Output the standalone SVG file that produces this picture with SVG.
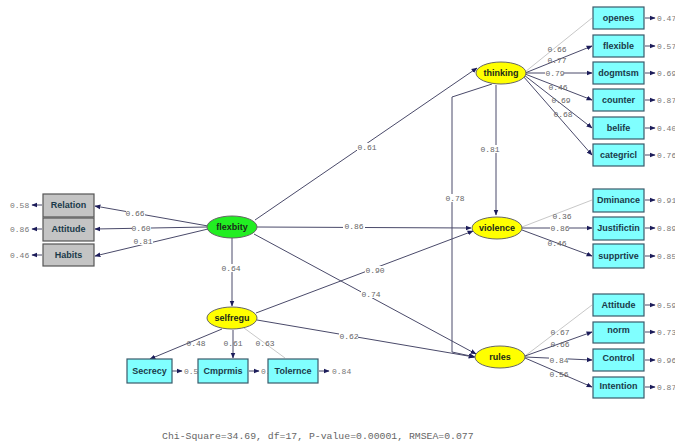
<svg xmlns="http://www.w3.org/2000/svg" width="675" height="446" viewBox="0 0 675 446">
<defs>
<marker id="ah" viewBox="0 0 10 10" refX="9" refY="5" markerWidth="6" markerHeight="6" orient="auto" markerUnits="userSpaceOnUse"><path d="M0,1 L10,5 L0,9 Z" fill="#1c1c5a"/></marker>
<style>
.ln{stroke:#4a4a6a;stroke-width:1;fill:none;marker-end:url(#ah)}
.lg{stroke:#c8c8c8;stroke-width:1;fill:none}
.bx{fill:#80ffff;stroke:#3a5a6a;stroke-width:1.2}
.gb{fill:#c4c4c4;stroke:#555;stroke-width:1.2}
.yl{fill:#ffff00;stroke:#666;stroke-width:1}
.gr{fill:#22ee22;stroke:#666;stroke-width:1}
.bt{font-family:"Liberation Sans",Arial,sans-serif;font-weight:bold;font-size:9px;fill:#1a3a4a;text-anchor:middle}
.et{font-family:"Liberation Sans",Arial,sans-serif;font-weight:bold;font-size:9px;fill:#1a2a1a;text-anchor:middle}
.cf{font-family:"Liberation Mono","Courier New",monospace;font-size:8px;fill:#666;text-anchor:middle}
.er{font-family:"Liberation Mono","Courier New",monospace;font-size:8px;fill:#777}
</style>
</defs>
<rect width="675" height="446" fill="#fff"/>
<g id="connectors">
<line class="ln" x1="208" y1="226" x2="95" y2="206"/>
<line class="ln" x1="207" y1="227" x2="95" y2="229"/>
<line class="ln" x1="208" y1="229" x2="95" y2="256"/>
<line class="ln" x1="42" y1="205" x2="32" y2="205"/>
<line class="ln" x1="42" y1="229" x2="32" y2="229"/>
<line class="ln" x1="42" y1="255" x2="32" y2="255"/>
<line class="ln" x1="232" y1="238" x2="232" y2="306"/>
<line class="ln" x1="255" y1="220" x2="477" y2="68"/>
<line class="ln" x1="257" y1="227" x2="471" y2="228"/>
<line class="ln" x1="254" y1="234" x2="476" y2="354"/>
<line class="ln" x1="256" y1="313" x2="473" y2="231"/>
<line class="ln" x1="257" y1="320" x2="474" y2="357"/>
<line class="ln" x1="496" y1="85" x2="496" y2="215"/>
<polyline class="ln" points="492,84 452,97 452,352 475,357"/>
<line class="lg" x1="525" y1="72" x2="592" y2="18"/>
<line class="ln" x1="525" y1="73" x2="592" y2="46"/>
<line class="ln" x1="525" y1="73" x2="592" y2="73"/>
<line class="ln" x1="525" y1="74" x2="592" y2="100"/>
<line class="ln" x1="524" y1="75" x2="592" y2="128"/>
<line class="ln" x1="523" y1="76" x2="592" y2="155"/>
<line class="lg" x1="522" y1="227" x2="592" y2="200"/>
<line class="ln" x1="522" y1="228" x2="592" y2="228"/>
<line class="ln" x1="522" y1="230" x2="592" y2="256"/>
<line class="lg" x1="525" y1="356" x2="592" y2="305"/>
<line class="ln" x1="525" y1="356" x2="592" y2="332"/>
<line class="ln" x1="525" y1="357" x2="592" y2="360"/>
<line class="ln" x1="525" y1="358" x2="592" y2="387"/>
<line class="ln" x1="222" y1="329" x2="150" y2="359"/>
<line class="ln" x1="233" y1="330" x2="233" y2="358"/>
<line class="lg" x1="244" y1="328" x2="285" y2="358"/>
<line class="ln" x1="645" y1="18" x2="655" y2="18"/>
<line class="ln" x1="645" y1="46" x2="655" y2="46"/>
<line class="ln" x1="645" y1="73" x2="655" y2="73"/>
<line class="ln" x1="645" y1="100" x2="655" y2="100"/>
<line class="ln" x1="645" y1="128" x2="655" y2="128"/>
<line class="ln" x1="645" y1="155" x2="655" y2="155"/>
<line class="ln" x1="645" y1="200" x2="655" y2="200"/>
<line class="ln" x1="645" y1="228" x2="655" y2="228"/>
<line class="ln" x1="645" y1="256" x2="655" y2="256"/>
<line class="ln" x1="645" y1="305" x2="655" y2="305"/>
<line class="ln" x1="645" y1="332" x2="655" y2="332"/>
<line class="ln" x1="645" y1="360" x2="655" y2="360"/>
<line class="ln" x1="645" y1="387" x2="655" y2="387"/>
<line class="ln" x1="172" y1="371" x2="182" y2="371"/>
<line class="ln" x1="249" y1="371" x2="259" y2="371"/>
<line class="ln" x1="319" y1="371" x2="329" y2="371"/>
<g>
<rect x="126" y="209" width="19" height="8" fill="#fff"/><text class="cf" x="135" y="216">0.66</text>
<rect x="132" y="224" width="19" height="8" fill="#fff"/><text class="cf" x="141" y="231">0.60</text>
<rect x="134" y="237" width="19" height="8" fill="#fff"/><text class="cf" x="143" y="244">0.81</text>
<rect x="221" y="264" width="19" height="8" fill="#fff"/><text class="cf" x="231" y="271">0.64</text>
<rect x="357" y="143" width="19" height="8" fill="#fff"/><text class="cf" x="367" y="150">0.61</text>
<rect x="343" y="222" width="22" height="8" fill="#fff"/><text class="cf" x="354" y="229">0.86</text>
<rect x="365" y="266" width="19" height="8" fill="#fff"/><text class="cf" x="375" y="273">0.90</text>
<rect x="361" y="290" width="19" height="8" fill="#fff"/><text class="cf" x="371" y="297">0.74</text>
<rect x="339" y="332" width="19" height="8" fill="#fff"/><text class="cf" x="349" y="339">0.62</text>
<rect x="480" y="145" width="19" height="8" fill="#fff"/><text class="cf" x="490" y="152">0.81</text>
<rect x="445" y="194" width="19" height="8" fill="#fff"/><text class="cf" x="455" y="201">0.78</text>
<text class="cf" x="557" y="52">0.66</text>
<text class="cf" x="557" y="63">0.77</text>
<rect x="545" y="70" width="19" height="8" fill="#fff"/><text class="cf" x="555" y="76">0.79</text>
<text class="cf" x="558" y="90">0.46</text>
<text class="cf" x="561" y="103">0.69</text>
<text class="cf" x="563" y="117">0.68</text>
<text class="cf" x="562" y="219">0.36</text>
<rect x="550" y="225" width="19" height="8" fill="#fff"/><text class="cf" x="560" y="231">0.86</text>
<text class="cf" x="557" y="246">0.46</text>
<text class="cf" x="560" y="335">0.67</text>
<text class="cf" x="560" y="347">0.66</text>
<rect x="549" y="357" width="19" height="8" fill="#fff"/><text class="cf" x="559" y="363">0.84</text>
<text class="cf" x="559" y="377">0.56</text>
<text class="cf" x="196" y="346">0.48</text>
<text class="cf" x="233" y="346">0.61</text>
<text class="cf" x="265" y="346">0.63</text>
</g>
<text class="er" x="10" y="208">0.58</text>
<text class="er" x="10" y="232">0.86</text>
<text class="er" x="10" y="258">0.46</text>
<text class="er" x="184" y="374">0.5</text>
<text class="er" x="261" y="374">0.6</text>
<text class="er" x="332" y="374">0.84</text>
<text class="er" x="657" y="21">0.47</text>
<text class="er" x="657" y="49">0.57</text>
<text class="er" x="657" y="76">0.69</text>
<text class="er" x="657" y="103">0.87</text>
<text class="er" x="657" y="131">0.40</text>
<text class="er" x="657" y="158">0.76</text>
<text class="er" x="657" y="203">0.91</text>
<text class="er" x="657" y="231">0.89</text>
<text class="er" x="657" y="259">0.85</text>
<text class="er" x="657" y="308">0.59</text>
<text class="er" x="657" y="335">0.73</text>
<text class="er" x="657" y="363">0.96</text>
<text class="er" x="657" y="390">0.87</text>
</g>
<g id="flexbity"><ellipse class="gr" cx="232" cy="227" rx="25" ry="11"/><text class="et" x="232" y="230">flexbity</text></g>
<g id="selfregu"><ellipse class="yl" cx="232" cy="318" rx="25" ry="11"/><text class="et" x="232" y="321">selfregu</text></g>
<g id="thinking"><ellipse class="yl" cx="501" cy="73" rx="25" ry="11"/><text class="et" x="501" y="76">thinking</text></g>
<g id="violence"><ellipse class="yl" cx="497" cy="228" rx="25" ry="11"/><text class="et" x="497" y="231">violence</text></g>
<g id="rules"><ellipse class="yl" cx="500" cy="357" rx="25" ry="11"/><text class="et" x="500" y="360">rules</text></g>
<g id="Relation"><rect class="gb" x="43" y="194" width="51" height="23"/><text class="bt" x="68.5" y="208">Relation</text></g>
<g id="Attitude1"><rect class="gb" x="43" y="218" width="51" height="23"/><text class="bt" x="68.5" y="232">Attitude</text></g>
<g id="Habits"><rect class="gb" x="43" y="244" width="51" height="22"/><text class="bt" x="68.5" y="258">Habits</text></g>
<g id="Secrecy"><rect class="bx" x="127" y="359" width="45" height="24"/><text class="bt" x="149.5" y="374">Secrecy</text></g>
<g id="Cmprmis"><rect class="bx" x="198" y="359" width="50" height="24"/><text class="bt" x="223" y="374">Cmprmis</text></g>
<g id="Tolernce"><rect class="bx" x="268" y="359" width="50" height="24"/><text class="bt" x="293" y="374">Tolernce</text></g>
<g id="openes"><rect class="bx" x="593" y="7" width="51" height="22"/><text class="bt" x="618.5" y="21">openes</text></g>
<g id="flexible"><rect class="bx" x="593" y="35" width="51" height="22"/><text class="bt" x="618.5" y="49">flexible</text></g>
<g id="dogmtsm"><rect class="bx" x="593" y="62" width="51" height="22"/><text class="bt" x="618.5" y="76">dogmtsm</text></g>
<g id="counter"><rect class="bx" x="593" y="89" width="51" height="22"/><text class="bt" x="618.5" y="103">counter</text></g>
<g id="belife"><rect class="bx" x="593" y="117" width="51" height="22"/><text class="bt" x="618.5" y="131">belife</text></g>
<g id="categricl"><rect class="bx" x="593" y="144" width="51" height="22"/><text class="bt" x="618.5" y="158">categricl</text></g>
<g id="Dminance"><rect class="bx" x="593" y="189" width="51" height="23"/><text class="bt" x="618.5" y="203">Dminance</text></g>
<g id="Justifictin"><rect class="bx" x="593" y="217" width="51" height="23"/><text class="bt" x="618.5" y="231">Justifictin</text></g>
<g id="supprtive"><rect class="bx" x="593" y="244" width="51" height="24"/><text class="bt" x="618.5" y="259">supprtive</text></g>
<g id="Attitude2"><rect class="bx" x="593" y="294" width="51" height="22"/><text class="bt" x="618.5" y="308">Attitude</text></g>
<g id="norm"><rect class="bx" x="593" y="322" width="51" height="21"/><text class="bt" x="618.5" y="333">norm</text></g>
<g id="Control"><rect class="bx" x="593" y="349" width="51" height="22"/><text class="bt" x="618.5" y="361">Control</text></g>
<g id="Intention"><rect class="bx" x="593" y="377" width="51" height="21"/><text class="bt" x="618.5" y="389">Intention</text></g>
<text x="162" y="439" font-family="Liberation Mono,'Courier New',monospace" font-size="9.8" fill="#666">Chi-Square=34.69, df=17, P-value=0.00001, RMSEA=0.077</text>
</svg>
